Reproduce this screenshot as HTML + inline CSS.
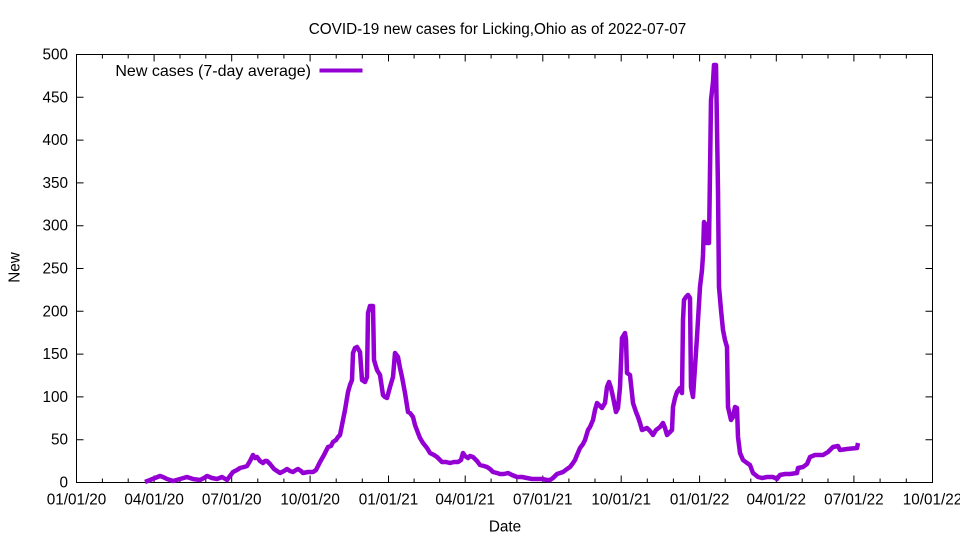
<!DOCTYPE html>
<html><head><meta charset="utf-8"><style>
html,body{margin:0;padding:0;background:#fff;}
svg{display:block;}
text{font-family:"Liberation Sans",Arial,sans-serif;font-size:15.3px;fill:#000;}
</style></head><body>
<svg width="960" height="540" viewBox="0 0 960 540" xmlns="http://www.w3.org/2000/svg">
<rect x="0" y="0" width="960" height="540" fill="#fff"/>
<text x="497.5" y="34" text-anchor="middle">COVID-19 new cases for Licking,Ohio as of 2022-07-07</text>
<g stroke="#000" stroke-width="1" fill="none">
<rect x="76.5" y="54.5" width="856" height="428"/>
<path d="M76.5 482.5h7M76.5 439.7h7M76.5 396.9h7M76.5 354.1h7M76.5 311.3h7M76.5 268.5h7M76.5 225.7h7M76.5 182.9h7M76.5 140.1h7M76.5 97.3h7M76.5 54.5h7
M932.5 482.5h-7M932.5 439.7h-7M932.5 396.9h-7M932.5 354.1h-7M932.5 311.3h-7M932.5 268.5h-7M932.5 225.7h-7M932.5 182.9h-7M932.5 140.1h-7M932.5 97.3h-7M932.5 54.5h-7"/>
<path d="M76.5 482.5v-7M154.1 482.5v-7M231.7 482.5v-7M310.1 482.5v-7M388.5 482.5v-7M465.2 482.5v-7M542.8 482.5v-7M621.2 482.5v-7M699.6 482.5v-7M776.3 482.5v-7M853.9 482.5v-7M932.5 482.5v-7
M76.5 54.5v7M154.1 54.5v7M231.7 54.5v7M310.1 54.5v7M388.5 54.5v7M465.2 54.5v7M542.8 54.5v7M621.2 54.5v7M699.6 54.5v7M776.3 54.5v7M853.9 54.5v7M932.5 54.5v7"/>
<path d="M102.4 482.5v-4M128.2 482.5v-4M180.0 482.5v-4M205.8 482.5v-4M257.8 482.5v-4M283.9 482.5v-4M336.2 482.5v-4M362.3 482.5v-4M414.1 482.5v-4M439.7 482.5v-4M491.1 482.5v-4M516.9 482.5v-4M568.9 482.5v-4M595.0 482.5v-4M647.3 482.5v-4M673.4 482.5v-4M725.2 482.5v-4M750.8 482.5v-4M802.2 482.5v-4M828.0 482.5v-4M880.1 482.5v-4M906.3 482.5v-4
M102.4 54.5v4M128.2 54.5v4M180.0 54.5v4M205.8 54.5v4M257.8 54.5v4M283.9 54.5v4M336.2 54.5v4M362.3 54.5v4M414.1 54.5v4M439.7 54.5v4M491.1 54.5v4M516.9 54.5v4M568.9 54.5v4M595.0 54.5v4M647.3 54.5v4M673.4 54.5v4M725.2 54.5v4M750.8 54.5v4M802.2 54.5v4M828.0 54.5v4M880.1 54.5v4M906.3 54.5v4"/>
</g>
<g text-anchor="end">
<text x="68" y="487.5">0</text>
<text x="68" y="444.7">50</text>
<text x="68" y="401.9">100</text>
<text x="68" y="359.1">150</text>
<text x="68" y="316.3">200</text>
<text x="68" y="273.5">250</text>
<text x="68" y="230.7">300</text>
<text x="68" y="187.9">350</text>
<text x="68" y="145.1">400</text>
<text x="68" y="102.3">450</text>
<text x="68" y="59.5">500</text>
</g>
<g text-anchor="middle">
<text x="76.5" y="504.5">01/01/20</text>
<text x="154.1" y="504.5">04/01/20</text>
<text x="231.7" y="504.5">07/01/20</text>
<text x="310.1" y="504.5">10/01/20</text>
<text x="388.5" y="504.5">01/01/21</text>
<text x="465.2" y="504.5">04/01/21</text>
<text x="542.8" y="504.5">07/01/21</text>
<text x="621.2" y="504.5">10/01/21</text>
<text x="699.6" y="504.5">01/01/22</text>
<text x="776.3" y="504.5">04/01/22</text>
<text x="853.9" y="504.5">07/01/22</text>
<text x="932.5" y="504.5">10/01/22</text>
<text x="505" y="531.5">Date</text>
<text x="0" y="0" transform="translate(19.5,267.5) rotate(-90)">New</text>
</g>
<text x="311" y="76" text-anchor="end" style="font-size:16px">New cases (7-day average)</text>
<line x1="319.5" y1="70.5" x2="362.5" y2="70.5" stroke="#9400d3" stroke-width="4"/>
<polyline fill="none" stroke="#9400d3" stroke-width="4.5" stroke-linejoin="round" stroke-linecap="butt" points="145,482 150,480 155,478 160,476 163,477 167,479 173,481 180,479 187,477 193,479 200,480 204,478 207,476 212,478 217,479 222,477 227,480 230,476 233,472 237,470 240,468 244,467 247,466 250,461 253,455 255,458 257,457 260,461 263,463 265,461 267,461 270,464 274,469 280,473 284,471 287,469 290,471 293,472 296,470 298,469 301,471 303,473 308,472 313,472 316,470 320,462 324,455 328,447 331,446 333,442 336,440 338,437 340,435 342,425 345,410 348,392 350,385 352,380 353,353 355,348 357,347 360,352 362,380 365,382 367,377 368,313 370,306 373,306 374,360 377,370 380,375 383,395 385,397 387,398 390,387 393,377 395,353 398,357 400,368 402,377 405,393 408,412 410,413 413,417 415,425 418,433 420,438 423,443 427,448 430,453 434,455 437,457 440,460 442,462 446,462 450,463 454,462 458,462 461,460 463,453 465,456 468,458 470,456 473,457 477,461 480,465 484,466 487,467 490,469 493,472 497,473 500,474 504,474 508,473 512,475 517,477 522,477 527,478 532,479 537,479 542,479 547,480 550,480 553,478 557,474 560,473 563,472 567,469 570,467 573,463 575,460 577,455 580,448 583,444 585,440 588,430 590,427 593,420 595,410 597,403 600,406 602,408 605,403 607,387 609,382 611,388 613,397 616,412 618,408 620,387 622,338 625,333 626,340 627,373 630,375 633,403 636,412 638,417 640,423 642,430 647,428 650,431 653,435 656,430 660,427 663,423 665,428 667,435 670,432 672,430 673,407 675,398 677,392 680,388 682,393 683,320 684,300 686,297 688,295 690,298 691,387 693,397 697,337 698,320 700,287 702,270 703,255 704,222 706,225 707,243 709,243 711,100 713,82 714,65 716,65 718,190 719,287 721,310 723,330 725,340 727,347 728,407 731,420 733,417 735,407 737,408 738,437 740,453 743,460 747,463 750,465 753,473 758,477 762,478 767,477 773,477 777,479 780,475 785,474 790,474 797,473 798,468 803,467 807,464 810,457 815,455 823,455 828,452 833,447 838,446 840,450 847,449 857,448 858,443"/>
</svg>
</body></html>
